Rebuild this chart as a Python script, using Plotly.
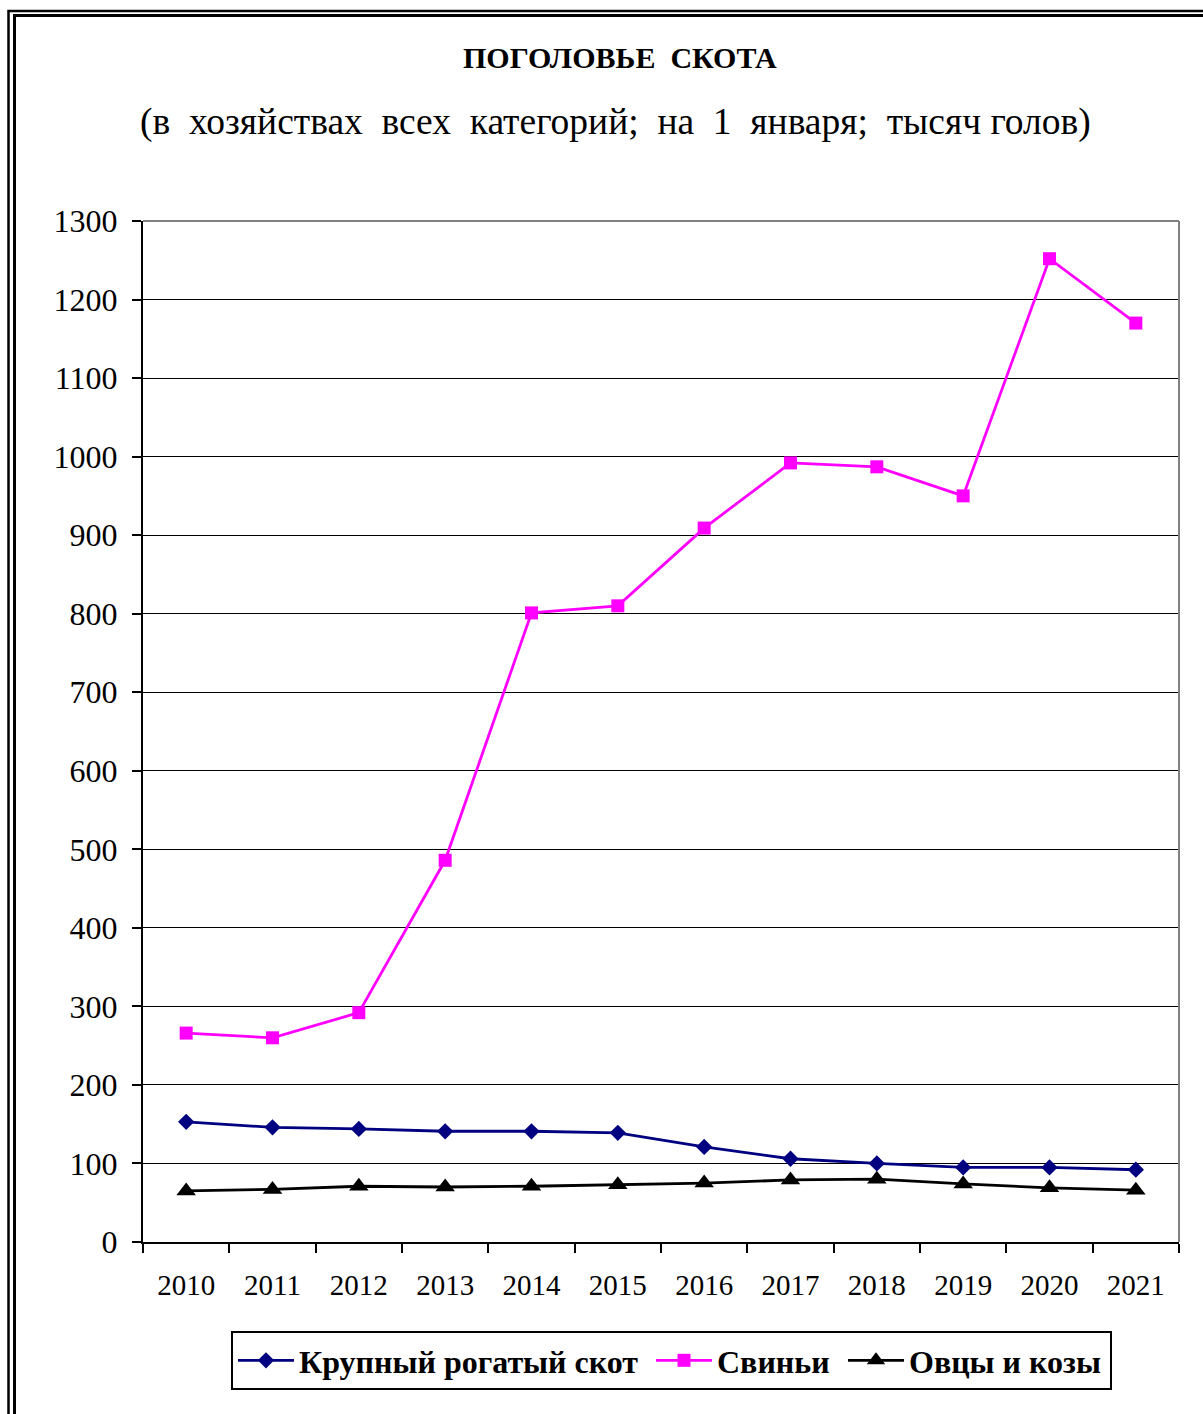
import plotly.graph_objects as go

years = ["2010", "2011", "2012", "2013", "2014", "2015", "2016", "2017", "2018", "2019", "2020", "2021"]
cattle = [153, 146, 144, 141, 141, 139, 121, 106, 100, 95, 95, 92]
pigs = [266, 260, 292, 486, 801, 810, 909, 992, 987, 950, 1252, 1170]
sheep = [65, 67, 71, 70, 71, 73, 75, 79, 80, 74, 69, 66]
series_names = ["Крупный рогатый скот", "Свиньи", "Овцы и козы"]
y_ticks = list(range(0, 1301, 100))

W, H = 1203, 1414
L, R, T, B = 143, 1179, 221, 1242
pw, ph = R - L, B - T


def px(x):
    return (x - L) / pw


def py(y):
    return (B - y) / ph


FONT = "Liberation Serif"

fig = go.Figure()
fig.add_trace(go.Scatter(x=years, y=cattle, name=series_names[0], mode="lines+markers",
                         line=dict(color="#000080", width=2.8), legendwidth=347,
                         marker=dict(symbol="diamond", size=12.5, color="#000080")))
fig.add_trace(go.Scatter(x=years, y=pigs, name=series_names[1], mode="lines+markers",
                         line=dict(color="#FF00FF", width=2.8), legendwidth=121,
                         marker=dict(symbol="square", size=13, color="#FF00FF")))
fig.add_trace(go.Scatter(x=years, y=sheep, name=series_names[2], mode="lines+markers",
                         line=dict(color="#000000", width=2.8), legendwidth=196,
                         marker=dict(symbol="triangle-up", size=17, color="#000000")))

shapes = [
    # plot-area top and right border (gray)
    dict(type="line", xref="paper", yref="paper", x0=0, x1=1, y0=1, y1=1,
         line=dict(color="#808080", width=2)),
    dict(type="line", xref="paper", yref="paper", x0=1, x1=1, y0=0, y1=1,
         line=dict(color="#808080", width=2)),
    # outer double frame
    dict(type="rect", xref="paper", yref="paper", x0=px(8.5), x1=px(1230), y0=py(1440), y1=py(11),
         line=dict(color="black", width=2.5)),
    dict(type="rect", xref="paper", yref="paper", x0=px(14.5), x1=px(1225), y0=py(1435), y1=py(15.5),
         line=dict(color="black", width=3)),
]

annotations = [
    dict(text="<b>ПОГОЛОВЬЕ  СКОТА</b>", xref="paper", yref="paper", x=px(620), y=py(57),
         xanchor="center", yanchor="middle", showarrow=False,
         font=dict(family=FONT, size=30, color="black")),
    dict(text="(в  хозяйствах  всех  категорий;  на  1  января;  тысяч голов)", xref="paper", yref="paper",
         x=px(615), y=py(122), xanchor="center", yanchor="middle", showarrow=False,
         font=dict(family=FONT, size=37.5, color="black")),
]

fig.update_layout(
    width=W, height=H,
    margin=dict(l=L, r=W - R, t=T, b=H - B, pad=0),
    paper_bgcolor="white", plot_bgcolor="white",
    shapes=shapes, annotations=annotations,
    showlegend=True,
    legend=dict(orientation="h", x=px(231), xanchor="left", y=py(1331), yanchor="top",
                bordercolor="black", borderwidth=2, bgcolor="white",
                font=dict(family=FONT, size=32, color="black", weight="bold"),
                itemwidth=56, tracegroupgap=0),
    xaxis=dict(type="category", range=[-0.5, 11.5], showgrid=False,
               ticks="outside", tickson="boundaries", ticklen=9, tickwidth=2, tickcolor="black",
               showline=True, linecolor="black", linewidth=2,
               tickfont=dict(family=FONT, size=29, color="black"), ticklabelstandoff=16),
    yaxis=dict(range=[0, 1300], tickvals=y_ticks, ticktext=[str(v) for v in y_ticks],
               showgrid=True, gridcolor="black", gridwidth=1, zeroline=False,
               ticks="outside", ticklen=9, tickwidth=2, tickcolor="black",
               showline=True, linecolor="black", linewidth=2,
               tickfont=dict(family=FONT, size=32, color="black"), ticklabelstandoff=8),
)

fig.write_html("out.html", post_script="document.body.style.margin='0';",
               config={"displayModeBar": False})
